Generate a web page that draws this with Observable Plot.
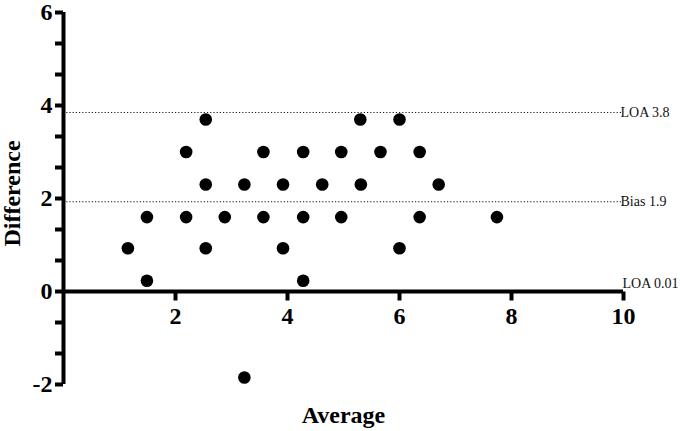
<!DOCTYPE html>
<html>
<head>
<meta charset="utf-8">
<script src="https://cdn.jsdelivr.net/npm/d3@7"></script>
<script src="https://cdn.jsdelivr.net/npm/@observablehq/plot@0.6"></script>
<style>
  html, body { margin: 0; padding: 0; background: #fff; }
</style>
</head>
<body>
<div id="chart"></div>
<script>
// Data
const averages = [
  2.54, 5.30, 6.00,
  2.19, 3.57, 4.28, 4.96, 5.66, 6.36,
  2.54, 3.23, 3.92, 4.62, 5.31, 6.70,
  1.49, 2.19, 2.88, 3.57, 4.28, 4.96, 6.36, 7.74,
  1.15, 2.54, 3.92, 6.00,
  1.49, 4.28,
  3.23
];
const differences = [
  3.7, 3.7, 3.7,
  3.0, 3.0, 3.0, 3.0, 3.0, 3.0,
  2.3, 2.3, 2.3, 2.3, 2.3, 2.3,
  1.6, 1.6, 1.6, 1.6, 1.6, 1.6, 1.6, 1.6,
  0.93, 0.93, 0.93, 0.93,
  0.23, 0.23,
  -1.85
];
const limitValues = [3.85, 1.93, 0.01];
const limitLabels = ["LOA 3.8", "Bias 1.9", "LOA 0.01"];
const xTicks = [2, 4, 6, 8, 10];
const yTicks = [-2, 0, 2, 4, 6];
const yMinorTicks = [-4/3, -2/3, 2/3, 4/3, 8/3, 10/3, 14/3, 16/3];

const points = averages.map((a, i) => ({average: a, difference: differences[i]}));
const limits = limitValues.map((v, i) => ({value: v, label: limitLabels[i]}));

const W = 680, H = 431;
const mt = 12, mb = 47, ml = 63, mr = 57;
const yDomain = [-2, 6];
const innerH = H - mt - mb;
const zeroShift = -innerH * (0 - yDomain[0]) / (yDomain[1] - yDomain[0]);
const tickLen = 9 * (yDomain[1] - yDomain[0]) / innerH; // ~9px in y units

const serif = "'Liberation Serif', 'Times New Roman', serif";

const chart = Plot.plot({
  width: W,
  height: H,
  marginTop: mt,
  marginBottom: mb,
  marginLeft: ml,
  marginRight: mr,
  style: {fontFamily: serif, background: "#fff", color: "#000", overflow: "visible"},
  x: {domain: [0, 10]},
  y: {domain: yDomain},
  marks: [
    // dotted limit lines
    Plot.ruleY(limits.filter(d => d.value > 0.5), {y: "value", x1: 0, x2: 10, stroke: "#111", strokeWidth: 1, strokeDasharray: "1.2,2"}),
    // limit labels
    Plot.text(limits.filter(d => d.value > 0.5), {x: 10, y: "value", text: "label", textAnchor: "start", dx: -3, fontSize: 14, fontWeight: "normal", fill: "#111"}),
    Plot.text(limits.filter(d => d.value <= 0.5), {x: 10, y: "value", text: "label", textAnchor: "start", dx: -1, dy: -8, fontSize: 14, fontWeight: "normal", fill: "#111"}),
    // y axis
    Plot.axisY(yTicks, {anchor: "left", tickSize: 8, tickPadding: 3, strokeWidth: 4, fontSize: 24, fontWeight: "bold", tickFormat: d => String(d), label: null, fill: "#000", stroke: "#000"}),
    Plot.axisY(yMinorTicks, {anchor: "left", tickSize: 8, strokeWidth: 4, text: null, label: null, stroke: "#000"}),
    // x axis labels, positioned below y = 0
    Plot.axisX(xTicks, {anchor: "bottom", dy: zeroShift, tickSize: 0, tickPadding: 15, fontSize: 24, fontWeight: "bold", tickFormat: d => String(d), label: null, fill: "#000"}),
    // points
    Plot.dot(points, {x: "average", y: "difference", r: 6.3, fill: "#000", stroke: "none"}),
    // axis titles
    Plot.text(["Average"], {frameAnchor: "bottom", textAnchor: "middle", dy: 31, text: d => d, fontSize: 24, fontWeight: "bold", fill: "#000", lineAnchor: "middle"}),
    Plot.text(["Difference"], {frameAnchor: "left", textAnchor: "middle", dx: -51, dy: -5, rotate: -90, text: d => d, fontSize: 24, fontWeight: "bold", fill: "#000", lineAnchor: "middle"}),
    // axes lines
    Plot.ruleX([0], {y1: yDomain[0], y2: yDomain[1], stroke: "#000", strokeWidth: 4}),
    Plot.ruleY([0], {x1: 0, x2: 10, stroke: "#000", strokeWidth: 4}),
    // x axis ticks hanging below y = 0
    Plot.link(xTicks, {x1: d => d, x2: d => d, y1: 0, y2: -tickLen, stroke: "#000", strokeWidth: 4})
  ]
});
document.getElementById("chart").appendChild(chart);
</script>
</body>
</html>
